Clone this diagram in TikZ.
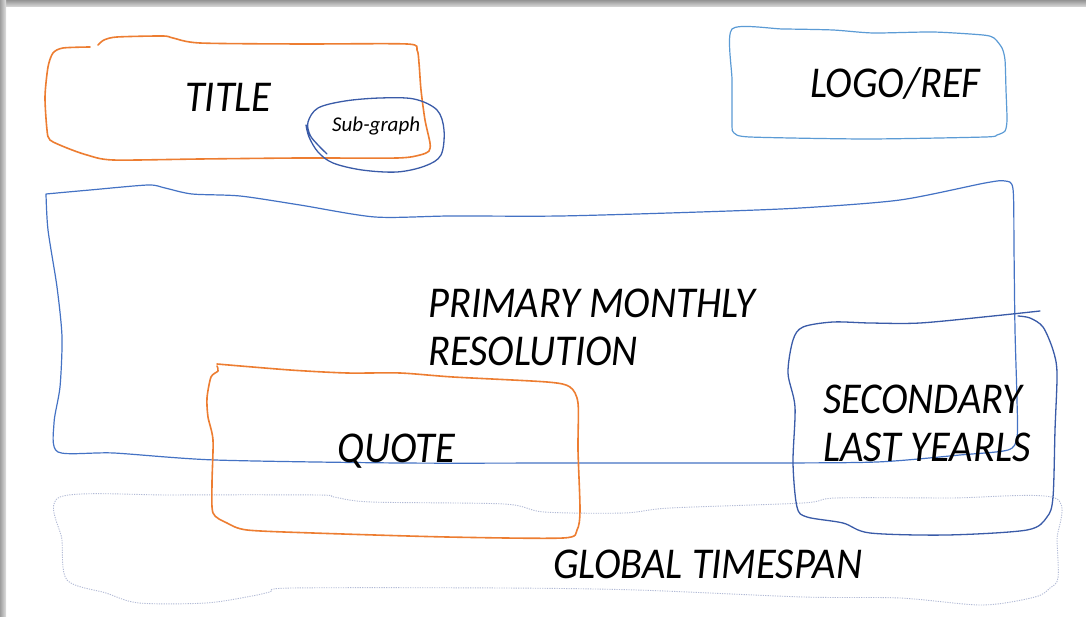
\documentclass[tikz,border=0pt]{standalone}
\usepackage{fontspec}
\setmainfont{Carlito}
\definecolor{orangeC}{HTML}{ED7D31}
\definecolor{lightblueC}{HTML}{5B9BD5}
\definecolor{midblueC}{HTML}{4472C4}
\definecolor{darkblueC}{HTML}{3A5BA8}
\definecolor{dotC}{HTML}{B2BAD6}
\newcommand{\nrw}[1]{\scalebox{0.92}[1]{#1}}
\begin{document}
\begin{tikzpicture}[x=1pt,y=-1pt,
  orangeline/.style={draw=orangeC, line width=1.6pt, line cap=round, line join=round},
  logoline/.style={draw=lightblueC, line width=1.2pt, line cap=round, line join=round},
  primline/.style={draw=midblueC, line width=1.2pt, line cap=round, line join=round},
  darkline/.style={draw=darkblueC, line width=1.3pt, line cap=round, line join=round},
  dotline/.style={draw=dotC, line width=0.9pt, dash pattern=on 1.2pt off 1.2pt},
  big/.style={font=\fontsize{44}{47}\selectfont\itshape, inner sep=0pt, anchor=base west},
  small/.style={font=\fontsize{21}{24}\selectfont\itshape, inner sep=0pt, anchor=base west}]
\useasboundingbox (0,0) rectangle (1086,617);
\fill[white] (0,0) rectangle (1086,617);
% shadow frame
\shade[top color=black!42, bottom color=black!14] (0,0) rectangle (1086,7);
\shade[left color=black!38, right color=black!12] (0,0) rectangle (6,617);

% global timespan (dotted)
\draw[dotline] plot[smooth cycle, tension=0.5] coordinates {
 (60,497) (173,495) (318,495) (334,497) (371,502) (504,504) (544,512) (624,513) (670,508)
 (803,503) (836,498) (950,498) (1055,498) (1057,540) (1058,578) (1050,588) (1035,597) (982,605)
 (900,598) (803,597) (637,590) (504,588) (292,588) (270,592) (252,596) (206,603) (139,603)
 (106,593) (67,580) (62,540)};

% primary box
\draw[primline] plot[smooth, tension=0.45] coordinates {
 (46,194) (90,190) (148,185) (165,188) (192,194) (240,196) (300,205) (375,217) (450,216)
 (560,216) (700,212) (800,208) (900,200) (985,183) (1005,181) (1013,189) (1014,250)
 (1015,330) (1017,400) (1017,437) (1008,450) (960,455) (877,462) (760,463) (580,463)
 (400,463) (215,460) (114,453) (58,452) (54,423) (60,387) (62,337) (57,287) (48,230) (46,194)};

% secondary box
\draw[darkline] plot[smooth, tension=0.5] coordinates {
 (1040,311) (993,316) (920,323) (870,323) (833,322) (803,327) (793,340) (788,373)
 (795,407) (793,463) (797,507) (807,517) (843,523) (870,533) (947,535) (1027,530)
 (1047,517) (1053,497) (1055,430) (1057,373) (1053,350) (1043,327) (1030,318) (1018,316)};

% quote box
\draw[orangeline] plot[smooth, tension=0.45] coordinates {
 (217,364) (290,370) (347,373) (400,373) (453,377) (547,382) (570,387) (578,403)
 (578,450) (580,510) (577,530) (563,538) (447,537) (313,533) (247,530) (227,523)
 (213,513) (212,483) (213,440) (208,417) (207,398) (211,377) (218,371) (217,366)};

% title box
\draw[orangeline] plot[smooth, tension=0.45] coordinates {
 (98,45) (104,40) (117,37) (163,36) (173,38) (200,43) (300,44) (407,44) (417,50) (419,63)
 (421,90) (425,120) (430,143) (429,151) (420,155) (397,158) (300,158) (200,159) (113,160)
 (87,155) (67,148) (50,140) (47,130) (45,97) (48,67) (53,53) (63,48) (90,47)};

% sub-graph ellipse
\draw[darkline] plot[smooth, tension=0.55] coordinates {
 (327,154) (318,145) (310,135) (308,122) (318,108) (345,101) (380,98) (414,99) (437,110)
 (444,130) (441,155) (425,166) (397,172) (362,170) (333,163) (318,152) (309,137) (306,125)};

% logo box
\draw[logoline] plot[smooth cycle, tension=0.4] coordinates {
 (732,29) (783,29) (833,30) (873,33) (933,32) (983,35) (994,38) (1002,48) (1005,60)
 (1006,90) (1007,120) (1005,131) (997,135) (985,137) (867,139) (750,137) (734,133) (732,125) (732,80)};

% texts
\node[big] (title) at (185,112) {\nrw{TITLE}};
\node[small] (sub) at (332,132) {Sub-graph};
\node[big] (logo) at (810,98) {\nrw{LOGO/REF}};
\node[big] (prim1) at (428,318) {\nrw{PRIMARY MONTHLY}};
\node[big] (prim2) at (428,365) {\nrw{RESOLUTION}};
\node[big] (quote) at (337,462) {\nrw{QUOTE}};
\node[big] (sec1) at (823,413) {\nrw{SECONDARY}};
\node[big] (sec2) at (823,461) {\nrw{LAST YEARLS}};
\node[big] (glob) at (553,578) {\nrw{GLOBAL TIMESPAN}};
\end{tikzpicture}
\end{document}
